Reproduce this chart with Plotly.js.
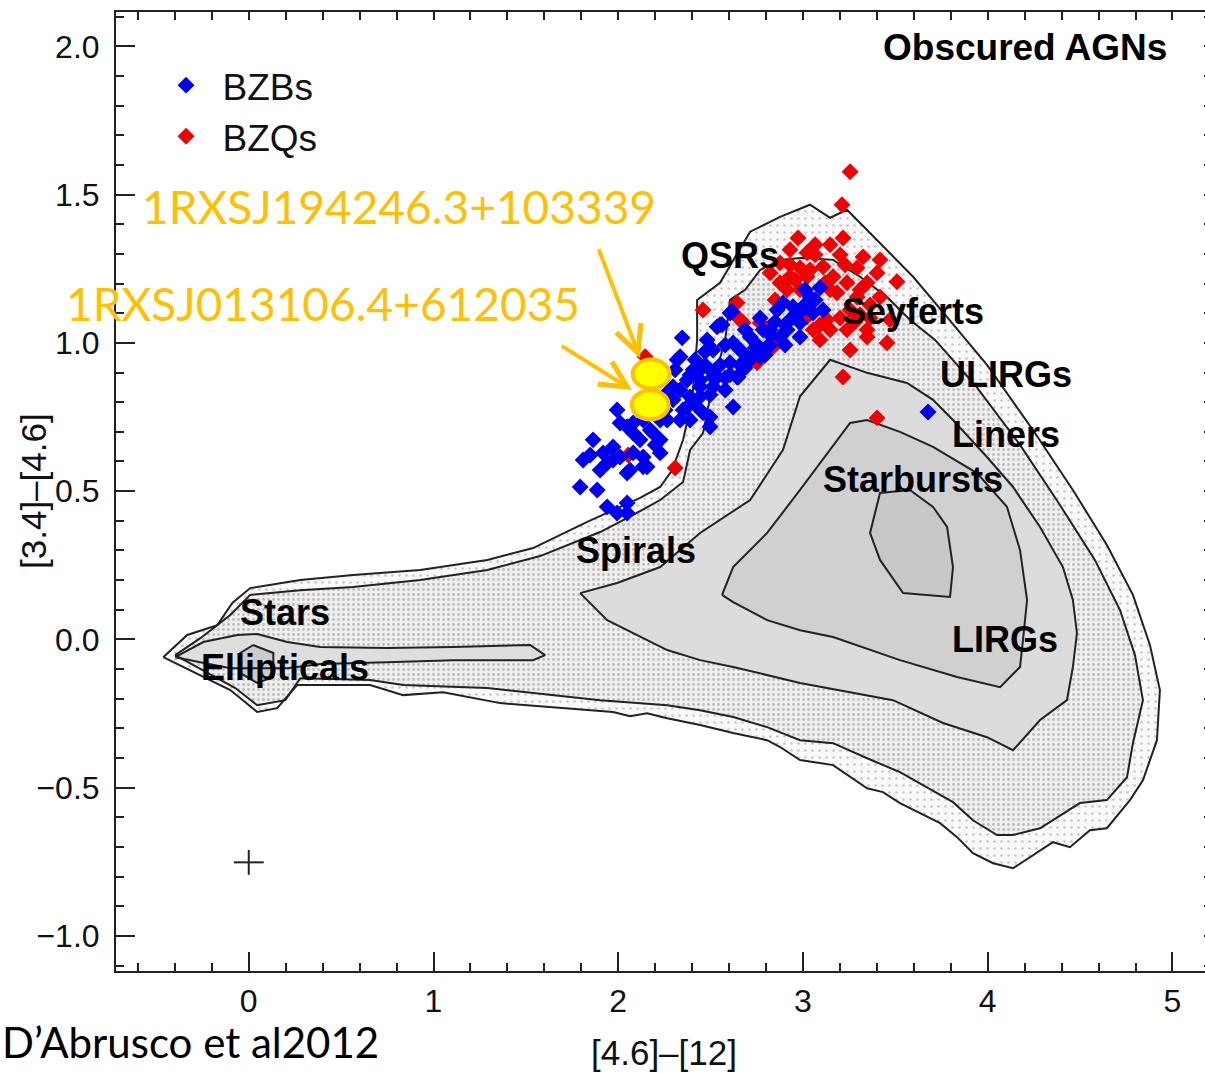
<!DOCTYPE html>
<html>
<head>
<meta charset="utf-8">
<script src="https://cdn.plot.ly/plotly-3.0.1.min.js"></script>
<style>
  html, body { margin: 0; padding: 0; overflow: hidden; background: #fff; }
  #chart { width: 1213px; height: 1073px; }
</style>
</head>
<body>
<div id="chart"></div>
<script>
// WISE colour-colour plane: [4.6]-[12] (x) versus [3.4]-[4.6] (y)

// Density contours of the WISE source population (outermost to innermost)
const c1X = [-0.463,-0.333,-0.170,-0.089,0.008,0.279,0.565,0.928,1.291,1.539,1.832,1.972,2.118,2.227,2.292,2.351,2.400,2.427,2.427,2.551,2.714,2.876,3.038,3.147,3.238,3.347,3.455,3.596,3.769,3.996,4.245,4.461,4.645,4.786,4.878,4.932,4.916,4.840,4.770,4.645,4.553,4.445,4.353,4.137,4.029,3.920,3.834,3.742,3.525,3.433,3.347,3.163,2.984,2.876,2.806,2.622,2.443,2.265,2.156,2.064,1.972,1.723,1.361,1.052,0.836,0.657,0.262,0.154,0.046,-0.100,-0.463];
const c1Y = [-0.060,0.015,0.048,0.123,0.173,0.200,0.217,0.234,0.268,0.308,0.396,0.436,0.477,0.514,0.571,0.673,0.808,1.010,1.145,1.203,1.375,1.425,1.466,1.422,1.449,1.381,1.314,1.223,1.095,0.926,0.706,0.504,0.318,0.150,-0.019,-0.171,-0.340,-0.475,-0.542,-0.637,-0.644,-0.701,-0.684,-0.772,-0.755,-0.721,-0.667,-0.620,-0.552,-0.515,-0.502,-0.424,-0.407,-0.363,-0.340,-0.316,-0.289,-0.266,-0.249,-0.259,-0.245,-0.232,-0.215,-0.178,-0.188,-0.154,-0.154,-0.232,-0.245,-0.171,-0.060];

const c2X = [-0.398,-0.262,-0.100,0.008,0.279,0.565,0.928,1.291,1.577,1.902,2.081,2.227,2.351,2.389,2.459,2.513,2.579,2.605,2.687,2.768,2.876,3.000,3.163,3.309,3.455,3.579,3.715,3.931,4.175,4.391,4.580,4.716,4.797,4.840,4.786,4.754,4.645,4.499,4.283,4.137,4.050,3.920,3.812,3.525,3.347,3.163,2.984,2.806,2.622,2.443,2.265,1.902,1.291,0.836,0.657,0.279,0.198,0.046,-0.073,-0.398];
const c2Y = [-0.053,0.004,0.082,0.150,0.166,0.177,0.200,0.234,0.281,0.362,0.420,0.470,0.531,0.639,0.696,0.865,1.010,1.145,1.179,1.246,1.280,1.287,1.280,1.223,1.155,1.078,1.010,0.858,0.656,0.453,0.268,0.099,-0.053,-0.205,-0.350,-0.465,-0.542,-0.552,-0.637,-0.660,-0.660,-0.610,-0.549,-0.448,-0.401,-0.350,-0.340,-0.296,-0.262,-0.239,-0.222,-0.205,-0.164,-0.154,-0.137,-0.131,-0.205,-0.222,-0.164,-0.053];

const c3X = [1.794,1.994,2.227,2.443,2.714,2.892,2.984,3.147,3.347,3.563,3.704,3.812,3.996,4.137,4.283,4.407,4.461,4.483,4.461,4.429,4.283,4.137,3.996,3.758,3.487,2.984,2.622,2.443,2.265,2.081,1.940,1.794];
const c3Y = [0.156,0.190,0.244,0.359,0.470,0.639,0.820,0.943,0.899,0.865,0.808,0.740,0.615,0.514,0.379,0.244,0.133,0.021,-0.093,-0.205,-0.272,-0.374,-0.330,-0.282,-0.205,-0.147,-0.093,-0.070,-0.036,0.021,0.065,0.156];

const c4X = [2.562,2.622,2.806,2.984,3.255,3.347,3.525,3.704,3.942,4.104,4.175,4.213,4.191,4.175,4.067,3.834,3.525,3.163,2.984,2.806,2.622,2.562];
const c4Y = [0.150,0.244,0.359,0.504,0.730,0.740,0.700,0.649,0.561,0.447,0.301,0.133,-0.002,-0.093,-0.161,-0.127,-0.070,0.008,0.031,0.065,0.126,0.150];

const c5X = [3.579,3.417,3.363,3.417,3.542,3.796,3.812,3.780,3.704,3.579];
const c5Y = [0.504,0.494,0.359,0.268,0.156,0.143,0.244,0.379,0.447,0.504];

// Stellar / elliptical branch
const c6X = [-0.398,-0.246,-0.062,0.046,0.208,0.387,0.749,1.107,1.523,1.604,1.539,1.107,0.749,0.387,0.208,-0.100,-0.398];
const c6Y = [-0.060,-0.009,0.015,0.018,-0.009,-0.026,-0.029,-0.026,-0.019,-0.053,-0.070,-0.070,-0.077,-0.083,-0.097,-0.097,-0.060];
const c7X = [0.024,0.133,0.133,0.046,-0.046,-0.046,0.024];
const c7Y = [-0.019,-0.046,-0.127,-0.147,-0.114,-0.046,-0.019];

// Blazars: BL Lacs (BZBs) and flat-spectrum radio quasars (BZQs)
const bzbX = [2.346,2.319,2.551,2.605,2.649,2.513,2.443,2.373,2.297,2.389,2.351,2.497,2.497,1.994,2.010,2.081,2.081,2.189,2.265,1.864,1.972,1.810,1.940,2.010,2.135,2.227,2.064,2.156,1.794,1.886,1.940,2.048,1.994,2.459,2.622,3.092,3.109,2.616,2.562,2.335,2.513,2.622,2.714,2.784,2.860,2.892,2.946,3.000,2.984,2.914,2.876,2.806,2.730,2.660,2.605,2.497,2.405,2.513,2.643,2.443,3.038,3.055,2.984,2.768,3.677,2.535,2.535,2.443,2.373,2.297,2.227,2.135,2.048,1.918,1.972,2.081,2.135,2.048,2.048,2.714,2.822,2.930,2.752,2.687,2.579,2.416,2.481,2.254,2.173,2.173,
  2.470,2.579,2.687,2.768,2.849,2.957,2.822,2.551,2.443,2.335,2.254,2.389,2.200,2.118,2.200,1.902,1.848,3.049,3.011,2.605,2.703,2.795,2.903,
  2.173,2.335,2.416,2.497,2.579,2.660,2.741,2.822,2.903,2.984,3.066,2.227,2.389,2.470,2.308];
const bzbY = [1.017,0.943,1.061,1.101,0.885,0.885,0.909,0.875,0.852,0.818,0.774,0.750,0.717,0.774,0.730,0.730,0.696,0.696,0.740,0.673,0.649,0.605,0.595,0.615,0.615,0.629,0.571,0.582,0.514,0.504,0.447,0.460,0.426,0.764,0.784,1.186,1.111,1.105,1.061,0.953,0.976,1.000,1.020,1.044,1.111,1.135,1.122,1.122,1.068,1.044,1.020,0.987,0.953,0.976,0.933,0.909,0.909,0.852,0.885,0.818,1.155,1.101,1.020,0.953,0.767,1.054,0.885,0.852,0.784,0.808,0.740,0.740,0.717,0.629,0.605,0.629,0.582,0.561,0.426,0.943,1.044,1.078,0.993,0.916,0.841,0.943,1.010,0.825,0.791,0.875,
  0.970,0.993,1.044,1.084,1.071,1.095,0.993,0.925,0.875,0.841,0.774,0.740,0.892,0.673,0.656,0.571,0.622,1.145,1.179,0.892,0.949,0.959,0.993,
  0.706,0.740,0.791,0.825,0.882,0.925,0.983,1.027,1.061,1.104,1.145,0.673,0.892,0.925,0.909];

const bzqX = [3.255,3.211,2.973,3.217,3.022,3.201,3.325,2.876,3.109,3.293,3.401,3.509,2.822,2.930,3.022,3.163,3.238,3.347,2.914,2.984,3.184,3.293,3.417,2.459,2.643,2.676,2.768,3.022,3.130,3.055,3.147,3.238,3.347,2.838,3.092,3.255,3.455,3.347,2.752,3.217,3.401,2.146,2.054,2.308,2.660,2.860,2.930,3.066,3.309,
  2.930,3.038,3.120,3.038,3.255,3.363,3.471,3.147,3.309,2.849,3.092,3.228,3.417,2.957,
  2.984,3.147,3.282,3.363,3.201,3.066,2.876];
const bzqY = [1.577,1.466,1.354,1.354,1.304,1.297,1.290,1.270,1.257,1.253,1.236,1.206,1.236,1.223,1.223,1.223,1.203,1.203,1.179,1.179,1.169,1.155,1.155,1.111,1.135,1.068,1.068,1.088,1.078,1.044,1.044,1.044,1.044,0.987,1.010,0.976,1.000,1.020,0.933,0.885,0.747,0.953,0.622,0.578,1.078,1.000,1.314,1.331,1.095,
  1.263,1.246,1.203,1.145,1.111,1.128,1.078,1.331,1.179,1.145,1.061,1.263,1.280,1.212,
  1.253,1.179,1.071,1.084,1.084,1.297,1.203];

// Two X-ray sources highlighted on the plane
const srcNames = ['1RXSJ194246.3+103339', '1RXSJ013106.4+612035'];
const srcX = [2.178, 2.173];
const srcY = [0.895, 0.791];

// Typical error bar
const errX = [0.0], errY = [-0.752];
const errDX = [0.081], errDY = [0.042];

// Region names
const regionNames = ['QSRs','Seyferts','ULIRGs','Liners','Starbursts','Spirals','Stars','Ellipticals','LIRGs'];
const regionX = [2.606, 3.593, 4.099, 4.099, 3.596, 2.097, 0.198, 0.198, 4.096];
const regionY = [1.296, 1.105, 0.892, 0.690, 0.538, 0.301, 0.092, -0.094, -0.002];

const INK = '#222222';
const ORANGE = '#FFC000';
const SANS = 'Liberation Sans, Arial, Helvetica, sans-serif';
const CAL = 'Lato, Open Sans, sans-serif';
const X_RANGE = [-0.7186, 5.214];
const Y_RANGE = [-1.1185, 2.116];

// fill tone (and stipple) of each density level
const contours = [
  {x: c1X, y: c1Y, fill: '#f6f6f6', dots: {shape: '.', bgcolor: '#f9f9f9', fgcolor: '#c9c9c9', size: 7, solidity: 0.12}},
  {x: c2X, y: c2Y, fill: '#ebebeb', dots: {shape: '.', bgcolor: '#efefef', fgcolor: '#bdbdbd', size: 5, solidity: 0.25}},
  {x: c3X, y: c3Y, fill: '#dcdcdc'},
  {x: c4X, y: c4Y, fill: '#d0d0d0'},
  {x: c5X, y: c5Y, fill: '#c8c8c8'},
  {x: c6X, y: c6Y, fill: '#dedede'},
  {x: c7X, y: c7Y, fill: '#cbcbcb'}
];

const traces = [];
contours.forEach(c => {
  const t = {
    type: 'scatter', mode: 'lines', x: c.x, y: c.y, fill: 'toself',
    fillcolor: c.fill, line: {width: 0, color: c.fill},
    hoverinfo: 'skip', showlegend: false
  };
  if (c.dots) t.fillpattern = c.dots;
  traces.push(t);
});
contours.forEach(c => traces.push({
  type: 'scatter', mode: 'lines', x: c.x, y: c.y,
  line: {width: 2, color: INK}, hoverinfo: 'skip', showlegend: false
}));

traces.push({
  type: 'scatter', mode: 'markers', x: errX, y: errY,
  marker: {size: 1, color: 'rgba(0,0,0,0)'},
  error_x: {type: 'data', array: errDX, width: 0, thickness: 2, color: INK},
  error_y: {type: 'data', array: errDY, width: 0, thickness: 2, color: INK},
  hoverinfo: 'skip', showlegend: false
});

traces.push({
  type: 'scatter', mode: 'markers', name: 'BZQs', x: bzqX, y: bzqY,
  marker: {symbol: 'diamond', size: 13, color: '#f00000', line: {width: 0}},
  legendrank: 2
});
traces.push({
  type: 'scatter', mode: 'markers', name: 'BZBs', x: bzbX, y: bzbY,
  marker: {symbol: 'diamond', size: 13, color: '#0000f0', line: {width: 0}},
  legendrank: 1
});

// carriers for the short-tick top and right frame axes
traces.push({type: 'scatter', x: [], y: [], xaxis: 'x2', yaxis: 'y', showlegend: false, hoverinfo: 'skip'});
traces.push({type: 'scatter', x: [], y: [], xaxis: 'x', yaxis: 'y2', showlegend: false, hoverinfo: 'skip'});

const annotations = [];
regionNames.forEach((t, i) => annotations.push({
  x: regionX[i], y: regionY[i], xref: 'x', yref: 'y', text: '<b>' + t + '</b>',
  showarrow: false, font: {family: SANS, size: 36, color: '#000'}
}));
annotations.push({
  x: 4.202, y: 1.995, xref: 'x', yref: 'y', text: '<b>Obscured AGNs</b>',
  showarrow: false, font: {family: SANS, size: 37, color: '#000'}
});
annotations.push({
  x: 0.0, y: 0.5, xref: 'paper', yref: 'paper', xshift: -104, yshift: 0,
  text: '[3.4]–[4.6]', textangle: -90, showarrow: false,
  font: {family: SANS, size: 35, color: '#111'}
});
// source names and arrows
annotations.push({
  x: 0.814, y: 1.459, xref: 'x', yref: 'y', text: srcNames[0], showarrow: false,
  font: {family: CAL, size: 46, color: ORANGE}
});
annotations.push({
  x: 0.400, y: 1.133, xref: 'x', yref: 'y', text: srcNames[1], showarrow: false,
  font: {family: CAL, size: 46, color: ORANGE}
});
annotations.push({
  x: 2.118, y: 0.949, ax: 1.891, ay: 1.321, xref: 'x', yref: 'y', axref: 'x', ayref: 'y',
  text: '', showarrow: true, arrowhead: 5, arrowsize: 1.3, arrowwidth: 4, arrowcolor: ORANGE
});
annotations.push({
  x: 2.075, y: 0.841, ax: 1.686, ay: 0.993, xref: 'x', yref: 'y', axref: 'x', ayref: 'y',
  text: '', showarrow: true, arrowhead: 5, arrowsize: 1.3, arrowwidth: 4, arrowcolor: ORANGE
});
annotations.push({
  x: -0.1058, y: -0.0737, xref: 'paper', yref: 'paper', xanchor: 'left', yanchor: 'middle',
  text: 'D’Abrusco et al2012', showarrow: false,
  font: {family: CAL, size: 42, color: '#000'}
});

const shapes = [1, 0].map(i => ({
  type: 'circle', xref: 'x', yref: 'y', layer: 'above',
  x0: srcX[i] - 0.1, x1: srcX[i] + 0.1, y0: srcY[i] - 0.049, y1: srcY[i] + 0.049,
  fillcolor: '#FFFF00', line: {color: ORANGE, width: 4}
}));

const axisCommon = {
  showline: true, linewidth: 2, linecolor: INK,
  ticks: 'inside', ticklen: 19, tickwidth: 2, tickcolor: INK,
  showgrid: false, zeroline: false,
  tickfont: {family: SANS, size: 32, color: '#111'}
};
const frameAxis = {
  showline: false, ticks: 'inside', ticklen: 8, tickwidth: 2, tickcolor: INK,
  showticklabels: false, showgrid: false, zeroline: false, tickmode: 'linear', tick0: 0
};

const layout = {
  width: 1213, height: 1073,
  margin: {l: 116, r: 1, t: 12, b: 102},
  paper_bgcolor: '#ffffff', plot_bgcolor: '#ffffff',
  xaxis: Object.assign({}, axisCommon, {
    mirror: true,
    range: X_RANGE, tickmode: 'linear', tick0: 0, dtick: 1,
    ticklabelstandoff: 1,
    minor: {tick0: 0, dtick: 0.2, ticks: 'inside', ticklen: 8, tickwidth: 2, tickcolor: INK},
    title: {text: '[4.6]–[12]', font: {family: SANS, size: 35, color: '#111'}, standoff: 22}
  }),
  yaxis: Object.assign({}, axisCommon, {
    mirror: false,
    range: Y_RANGE, tickmode: 'linear', tick0: 0, dtick: 0.5, tickformat: '.1f',
    ticklabelstandoff: 8,
    minor: {tick0: 0, dtick: 0.1, ticks: 'inside', ticklen: 8, tickwidth: 2, tickcolor: INK}
  }),
  xaxis2: Object.assign({}, frameAxis, {overlaying: 'x', side: 'top', anchor: 'y', range: X_RANGE, dtick: 0.2}),
  yaxis2: Object.assign({}, frameAxis, {overlaying: 'y', side: 'right', anchor: 'x', range: Y_RANGE, dtick: 0.1}),
  showlegend: true,
  legend: {
    x: 0.0306, y: 0.9556, xanchor: 'left', yanchor: 'top',
    bgcolor: 'rgba(0,0,0,0)', font: {family: SANS, size: 37, color: '#111'},
    tracegroupgap: 0, itemwidth: 63
  },
  annotations: annotations,
  shapes: shapes,
  font: {family: SANS}
};

Plotly.newPlot('chart', traces, layout, {displayModeBar: false, staticPlot: true});
</script>
</body>
</html>
